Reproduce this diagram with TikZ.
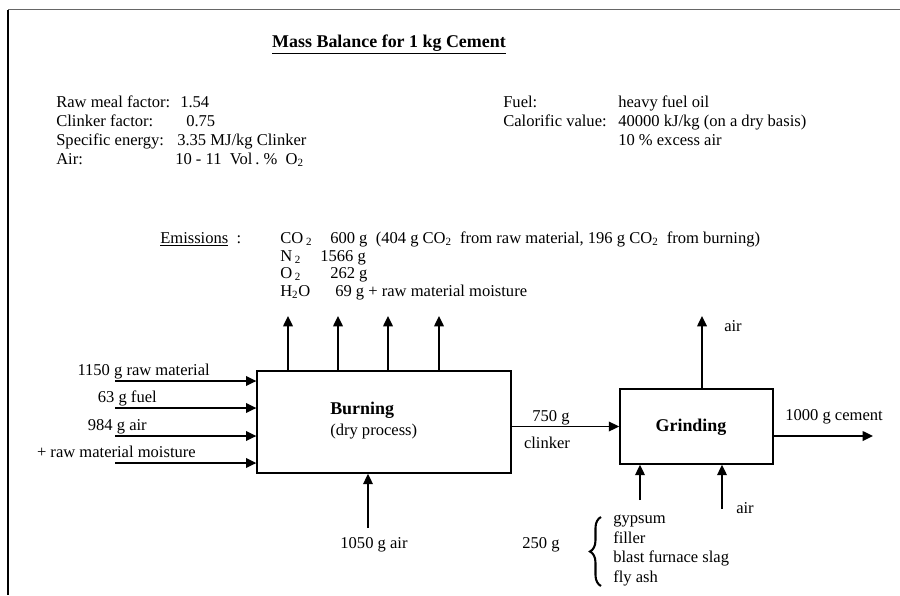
\documentclass[tikz,border=0pt]{standalone}
\usepackage{fontspec}
\setmainfont{Liberation Serif}
\usetikzlibrary{arrows.meta, decorations.pathreplacing}

\begin{document}
\begin{tikzpicture}[x=0.725pt, y=-0.725pt,
        >={Triangle[length=7.5pt, width=7pt]},
        txt/.style={inner sep=0pt, font=\fontsize{12}{14}\selectfont},
        bold/.style={inner sep=0pt, font=\fontsize{13}{15}\selectfont\bfseries},
        procbox/.style={draw, line width=1.1pt},
        flow/.style={->, line width=1.1pt}]
        \useasboundingbox (0,0) rectangle (900,595);

        % Frame
        \draw[line width=1.2pt, black!60] (8,9.5) -- (900,9.5);
        \draw[line width=1.2pt] (8,9.5) -- (8,595);

        % Title
        \node[bold, anchor=base] (title) at (389,47) {\underline{Mass Balance for 1 kg Cement}};

        % Raw meal data
        \node[txt, anchor=base west] (rmf) at (56,107) {Raw meal factor:};
        \node[txt, anchor=base west] (rmfv) at (180,107) {1.54};
        \node[txt, anchor=base west] (clf) at (56,126) {Clinker factor:};
        \node[txt, anchor=base west] (clfv) at (186,126) {0.75};
        \node[txt, anchor=base west] (spe) at (56,145) {Specific energy:};
        \node[txt, anchor=base west] (spev) at (177,145) {3.35 MJ/kg Clinker};
        \node[txt, anchor=base west] (air) at (56,164) {Air:};
        \node[txt, anchor=base west] (airv) at (175,164) {10 - 11\ \ Vol\,.\ \%\ \ O\textsubscript{2}};

        % Fuel data
        \node[txt, anchor=base west] (fuel) at (503,107) {Fuel:};
        \node[txt, anchor=base west] (fuelv) at (618,107) {heavy fuel oil};
        \node[txt, anchor=base west] (cal) at (503,126) {Calorific value:};
        \node[txt, anchor=base west] (calv) at (618,126) {40000 kJ/kg (on a dry basis)};
        \node[txt, anchor=base west] (exc) at (618,145) {10 \% excess air};

        % Emissions
        \node[txt, anchor=base west] (emis) at (160,243.5) {\underline{Emissions}\ \ :};
        \node[txt, anchor=base west] (co2) at (280,243.5) {CO\,\textsubscript{2}};
        \node[txt, anchor=base west] (co2v) at (330,243.5) {600 g\ \ (404 g CO\textsubscript{2}\ \ from raw material, 196 g CO\textsubscript{2}\ \ from burning)};
        \node[txt, anchor=base west] (n2) at (280,261) {N\,\textsubscript{2}};
        \node[txt, anchor=base west] (n2v) at (320,261) {1566 g};
        \node[txt, anchor=base west] (o2) at (280,278.5) {O\,\textsubscript{2}};
        \node[txt, anchor=base west] (o2v) at (330,278.5) {262 g};
        \node[txt, anchor=base west] (h2o) at (280,296) {H\textsubscript{2}O};
        \node[txt, anchor=base west] (h2ov) at (335,296) {69 g + raw material moisture};

        % Burning
        \node[procbox, minimum width=184pt, minimum height=74pt] (burn) at (384,422) {};
        \node[bold, anchor=base west] (burnt) at (330,414) {Burning};
        \node[txt, anchor=base west] (burnp) at (330,435) {(dry process)};

        % Grinding
        \node[procbox, minimum width=111pt, minimum height=54.4pt] (grind) at (696.5,426.5) {};
        \node[bold, anchor=base] (grindt) at (691,431) {Grinding};

        % Inputs to burning
        \coordinate (in1) at (115,381);
        \coordinate (in2) at (115,408);
        \coordinate (in3) at (115,436);
        \coordinate (in4) at (115,463);
        \foreach \i in {1,...,4} {
            \draw[flow] (in\i) -- (in\i -| burn.west);
        }
        \node[txt, anchor=base east] (rawm) at (210,375.5) {1150 g raw material};
        \node[txt, anchor=base east] (fuelin) at (157,402.5) {63 g fuel};
        \node[txt, anchor=base east] (airin1) at (147,430.5) {984 g air};
        \node[txt, anchor=base east] (moist) at (196,457.5) {+ raw material moisture};

        % Emission arrows
        \foreach \ex [count=\i] in {288,338,388,439} {
            \coordinate (em\i) at (\ex,316);
            \draw[flow] (burn.north -| em\i) -- (em\i);
        }

        % Burning air
        \coordinate (burnair) at (368,528);
        \draw[flow] (burnair) -- (burnair |- burn.south);
        \node[txt] (burnairl) at (374,545) {1050 g air};

        % Clinker
        \coordinate (clk) at (560,426.5);
        \draw[flow] (clk -| burn.east) -- (grind.west);
        \node[txt] (clkm) at (551,418) {750 g};
        \node[txt] (clkl) at (547,443) {clinker};

        % Grinding air and cement
        \coordinate (airout) at (702,316);
        \draw[flow] (airout |- grind.north) -- (airout);
        \node[txt] (airoutl) at (733,326) {air};
        \coordinate (cem) at (873,436);
        \draw[flow] (cem -| grind.east) -- (cem);
        \node[txt] (ceml) at (834,417) {1000 g cement};

        \coordinate (add) at (640,500);
        \draw[flow] (add) -- (add |- grind.south);
        \coordinate (airin) at (722,509);
        \draw[flow] (airin) -- (airin |- grind.south);
        \node[txt] (airinl) at (745,508) {air};

        % Additives
        \node[txt] (addm) at (541,545) {250 g};
        \draw[decorate, decoration={brace, amplitude=8pt}, line width=1.5pt] (601,586) -- (601,517);
        \node[txt, anchor=base west] (gyp) at (613,523) {gypsum};
        \node[txt, anchor=base west] (fill) at (613,543) {filler};
        \node[txt, anchor=base west] (slag) at (613,562) {blast furnace slag};
        \node[txt, anchor=base west] (ash) at (613,582) {fly ash};
    \end{tikzpicture}
\end{document}
